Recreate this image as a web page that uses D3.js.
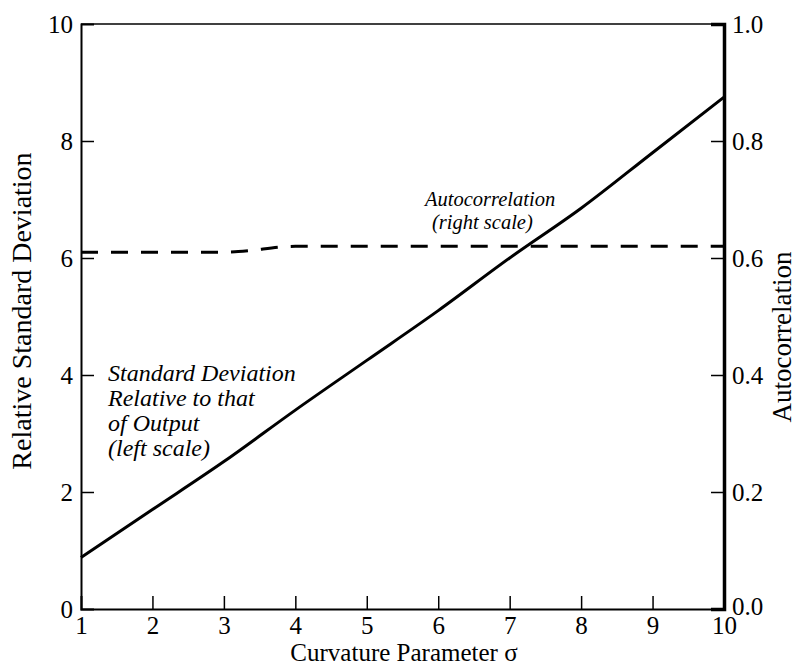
<!DOCTYPE html>
<html>
<head>
<meta charset="utf-8">
<script src="https://cdn.jsdelivr.net/npm/d3@7"></script>
<style>
  body { margin: 0; background: #fff; }
  text { font-family: "Liberation Serif", "Times New Roman", serif; fill: #000; }
</style>
</head>
<body>
<div id="chart"></div>
<script>
// curvature parameter sigma
const sigma = [1, 2, 3, 4, 5, 6, 7, 8, 9, 10];
// relative standard deviation (left scale)
const stdDev = [0.88, 1.7, 2.52, 3.4, 4.25, 5.1, 6.0, 6.85, 7.8, 8.75];
// autocorrelation (right scale)
const acSigma = [1, 2, 3, 3.2, 4, 5, 6, 7, 8, 9, 10];
const autocorr = [0.61, 0.61, 0.61, 0.611, 0.62, 0.62, 0.62, 0.62, 0.62, 0.62, 0.62];

const xTicks = [1, 2, 3, 4, 5, 6, 7, 8, 9, 10];
const leftTicks = [0, 2, 4, 6, 8, 10];
const rightTicks = [0, 0.2, 0.4, 0.6, 0.8, 1.0];

const W = 796, H = 669;
const margin = {top: 24, right: 72, bottom: 60, left: 81};
const width = W - margin.left - margin.right,
      height = H - margin.top - margin.bottom;

const svg = d3.select("#chart").append("svg")
    .attr("width", W).attr("height", H);
const g = svg.append("g")
    .attr("transform", `translate(${margin.left},${margin.top})`);

// frame top
g.append("line").attr("x1", 0).attr("x2", width).attr("y1", 0).attr("y2", 0)
    .attr("stroke", "#000").attr("stroke-width", 1.5);

const x = d3.scaleLinear().domain([1, 10]).range([0, width]);
const yL = d3.scaleLinear().domain([0, 10]).range([height, 0]);
const yR = d3.scaleLinear().domain([0, 1]).range([height, 0]);

const fs = 25;

const xAxis = g.append("g").attr("transform", `translate(0,${height})`)
    .call(d3.axisBottom(x).tickValues(xTicks).tickSize(-13).tickPadding(7).tickFormat(d3.format("d")));
const lAxis = g.append("g")
    .call(d3.axisLeft(yL).tickValues(leftTicks).tickSize(-13).tickPadding(8).tickFormat(d3.format("d")));
const rAxis = g.append("g").attr("transform", `translate(${width},0)`)
    .call(d3.axisRight(yR).tickValues(rightTicks).tickSize(-13).tickPadding(8).tickFormat(d3.format(".1f")));

[xAxis, lAxis, rAxis].forEach(a => {
  a.attr("font-family", null);
  a.select(".domain").attr("stroke", "#000").attr("stroke-width", 2);
  a.selectAll(".tick line").attr("stroke", "#000").attr("stroke-width", 1.5);
  a.selectAll(".tick text").attr("font-size", fs).attr("fill", "#000");
});
rAxis.select(".domain").attr("stroke-width", 3.5);
// no tick marks in the corners
xAxis.selectAll(".tick").filter(d => d === 1 || d === 10).select("line").remove();
lAxis.selectAll(".tick").filter(d => d === 0 || d === 10).select("line").remove();
rAxis.selectAll(".tick").filter(d => d === 0 || d === 1).select("line").remove();
rAxis.selectAll(".tick").filter(d => d === 0).select("text").attr("dy", "0.2em");

// data lines
g.append("path").datum(sigma.map((s, i) => [s, stdDev[i]]))
    .attr("fill", "none").attr("stroke", "#000").attr("stroke-width", 3)
    .attr("d", d3.line().x(d => x(d[0])).y(d => yL(d[1])).curve(d3.curveMonotoneX));

g.append("path").datum(acSigma.map((s, i) => [s, autocorr[i]]))
    .attr("fill", "none").attr("stroke", "#000").attr("stroke-width", 3)
    .attr("stroke-dasharray", "17,13")
    .attr("d", d3.line().x(d => x(d[0])).y(d => yR(d[1])).curve(d3.curveMonotoneX));

// annotations, one text element per line
const ann = (lines, x0, y0, size, lh) => {
  lines.forEach((s, i) => g.append("text")
    .attr("font-style", "italic").attr("font-size", size)
    .attr("x", x0).attr("y", y0 + i * lh).text(s));
};
ann(["Autocorrelation"], 425 - margin.left, 206 - margin.top, 20.5, 0);
ann(["(right scale)"], 432 - margin.left, 229 - margin.top, 20.5, 0);
ann(["Standard Deviation", "Relative to that", "of Output", "(left scale)"],
    108 - margin.left, 381 - margin.top, 24, 25);

// axis titles
svg.append("text").attr("x", 404).attr("y", 661)
    .attr("text-anchor", "middle").attr("font-size", 25).text("Curvature Parameter σ");
svg.append("text").attr("transform", "translate(31,311) rotate(-90)")
    .attr("text-anchor", "middle").attr("font-size", 28).text("Relative Standard Deviation");
svg.append("text").attr("transform", "translate(791,337) rotate(-90)")
    .attr("text-anchor", "middle").attr("font-size", 27).text("Autocorrelation");
</script>
</body>
</html>
